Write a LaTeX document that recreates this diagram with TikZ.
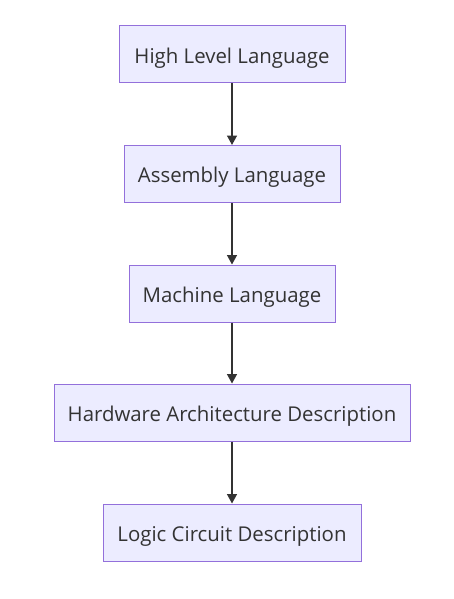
\documentclass[tikz,border=0pt]{standalone}
\usepackage{fontspec}
\setmainfont{Open Sans}
\usetikzlibrary{arrows.meta}
\definecolor{boxfill}{HTML}{ECECFF}
\definecolor{boxline}{HTML}{9370DB}
\definecolor{ink}{HTML}{333333}
\begin{document}
\begin{tikzpicture}[x=1pt,y=-1pt,
  box/.style={draw=boxline, fill=boxfill, line width=1pt, inner sep=0pt,
    minimum height=57pt, text height=17.6pt, text depth=0pt,
    font=\fontsize{20.4}{24}\selectfont, text=ink},
  flow/.style={draw=ink, line width=1.5pt, -{Triangle[length=9.5pt,width=10pt]}}]
\useasboundingbox (0,0) rectangle (453,599);
\node[box, minimum width=226pt] (a) at (232,54.5) {High Level Language};
\node[box, minimum width=216pt] (b) at (232,174) {Assembly Language};
\node[box, minimum width=206pt] (c) at (232,293.5) {Machine Language};
\node[box, minimum width=356pt] (d) at (232,412.5) {Hardware Architecture Description};
\node[box, minimum width=258pt] (e) at (232,532.5) {Logic Circuit Description};
\draw[flow] (a) -- (b);
\draw[flow] (b) -- (c);
\draw[flow] (c) -- (d);
\draw[flow] (d) -- (e);
\end{tikzpicture}
\end{document}
